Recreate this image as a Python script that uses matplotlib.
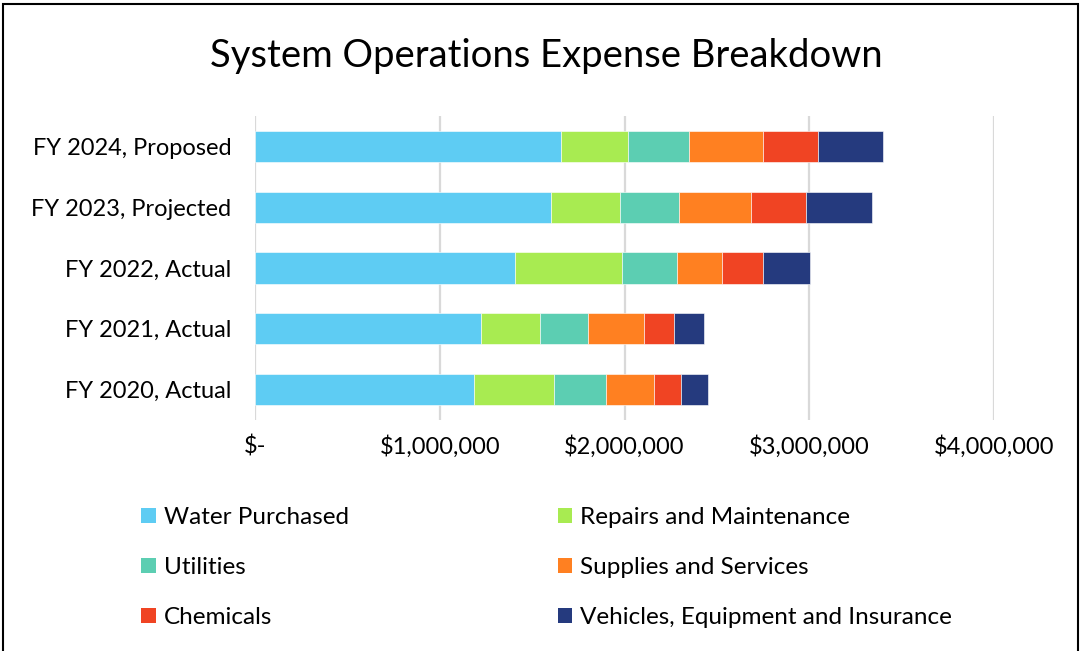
import numpy as np
import matplotlib
matplotlib.use("Agg")
import matplotlib.pyplot as plt
from matplotlib.patches import Rectangle, Patch
from matplotlib.ticker import FuncFormatter

plt.rcParams['font.family'] = ['Lato', 'DejaVu Sans']

# data (dollars) ---------------------------------------------------------
years = ["FY 2020, Actual", "FY 2021, Actual", "FY 2022, Actual",
         "FY 2023, Projected", "FY 2024, Proposed"]
categories = ["Water Purchased", "Repairs and Maintenance", "Utilities",
              "Supplies and Services", "Chemicals",
              "Vehicles, Equipment and Insurance"]

water     = [1187000, 1224000, 1410000, 1604000, 1655000]
repairs   = [433000, 318000, 579000, 371000, 366000]
utilities = [281000, 259000, 293000, 318000, 326000]
supplies  = [257000, 307000, 245000, 392000, 405000]
chemicals = [148000, 160000, 225000, 300000, 293000]
vehicles  = [147000, 162000, 254000, 353000, 355000]

series = [water, repairs, utilities, supplies, chemicals, vehicles]
colors = ["#5ECCF3", "#A8EB51", "#5CCEB2", "#FF8021", "#F04423", "#253A7E"]

ticks = [0, 1000000, 2000000, 3000000, 4000000]

# figure ------------------------------------------------------------------
fig = plt.figure(figsize=(10.8, 6.51), dpi=100)
ax = fig.add_axes([255/1080, 1 - 420/651, 739/1080, 304/651])

y = np.arange(len(years))
left = np.zeros(len(years))
for vals, col, name in zip(series, colors, categories):
    ax.barh(y, vals, left=left, height=0.515, color=col, label=name,
            edgecolor="white", linewidth=0.4, zorder=3)
    left += np.array(vals)

ax.set_xlim(0, 4000000)
ax.set_ylim(-0.5, len(years) - 0.5)
ax.set_xticks(ticks)
ax.xaxis.set_major_formatter(FuncFormatter(
    lambda v, p: "$-" if v == 0 else f"${v:,.0f}"))
ax.set_yticks(y)
ax.set_yticklabels(years)
ax.tick_params(axis="both", length=0, labelsize=17, colors="black")
ax.tick_params(axis="x", pad=11)
ax.tick_params(axis="y", pad=17)
ax.grid(axis="x", color="#d9d9d9", linewidth=1.6, zorder=0)
for s in ax.spines.values():
    s.set_visible(False)

fig.text(546/1080, 1 - 56/651, "System Operations Expense Breakdown",
         ha="center", va="center", fontsize=27.5)

# legend: row-wise order like Excel
handles = [Patch(facecolor=c) for c in colors]
order = [0, 2, 4, 1, 3, 5]
fig.legend([handles[i] for i in order], [categories[i] for i in order],
           ncol=2, loc="upper left", bbox_to_anchor=(141/1080, 1 - 507/651),
           frameon=False, fontsize=17.5, handlelength=0.6, handleheight=0.6,
           handletextpad=0.33, labelspacing=1.2, columnspacing=8.6,
           borderaxespad=0, borderpad=0)

# outer chart border
fig.patches.append(Rectangle((3/1080, -0.05), 1075/1080, 1.05 - 4/651,
                             transform=fig.transFigure, fill=False,
                             edgecolor="black", linewidth=1.5))

fig.savefig("out.png", dpi=100)
